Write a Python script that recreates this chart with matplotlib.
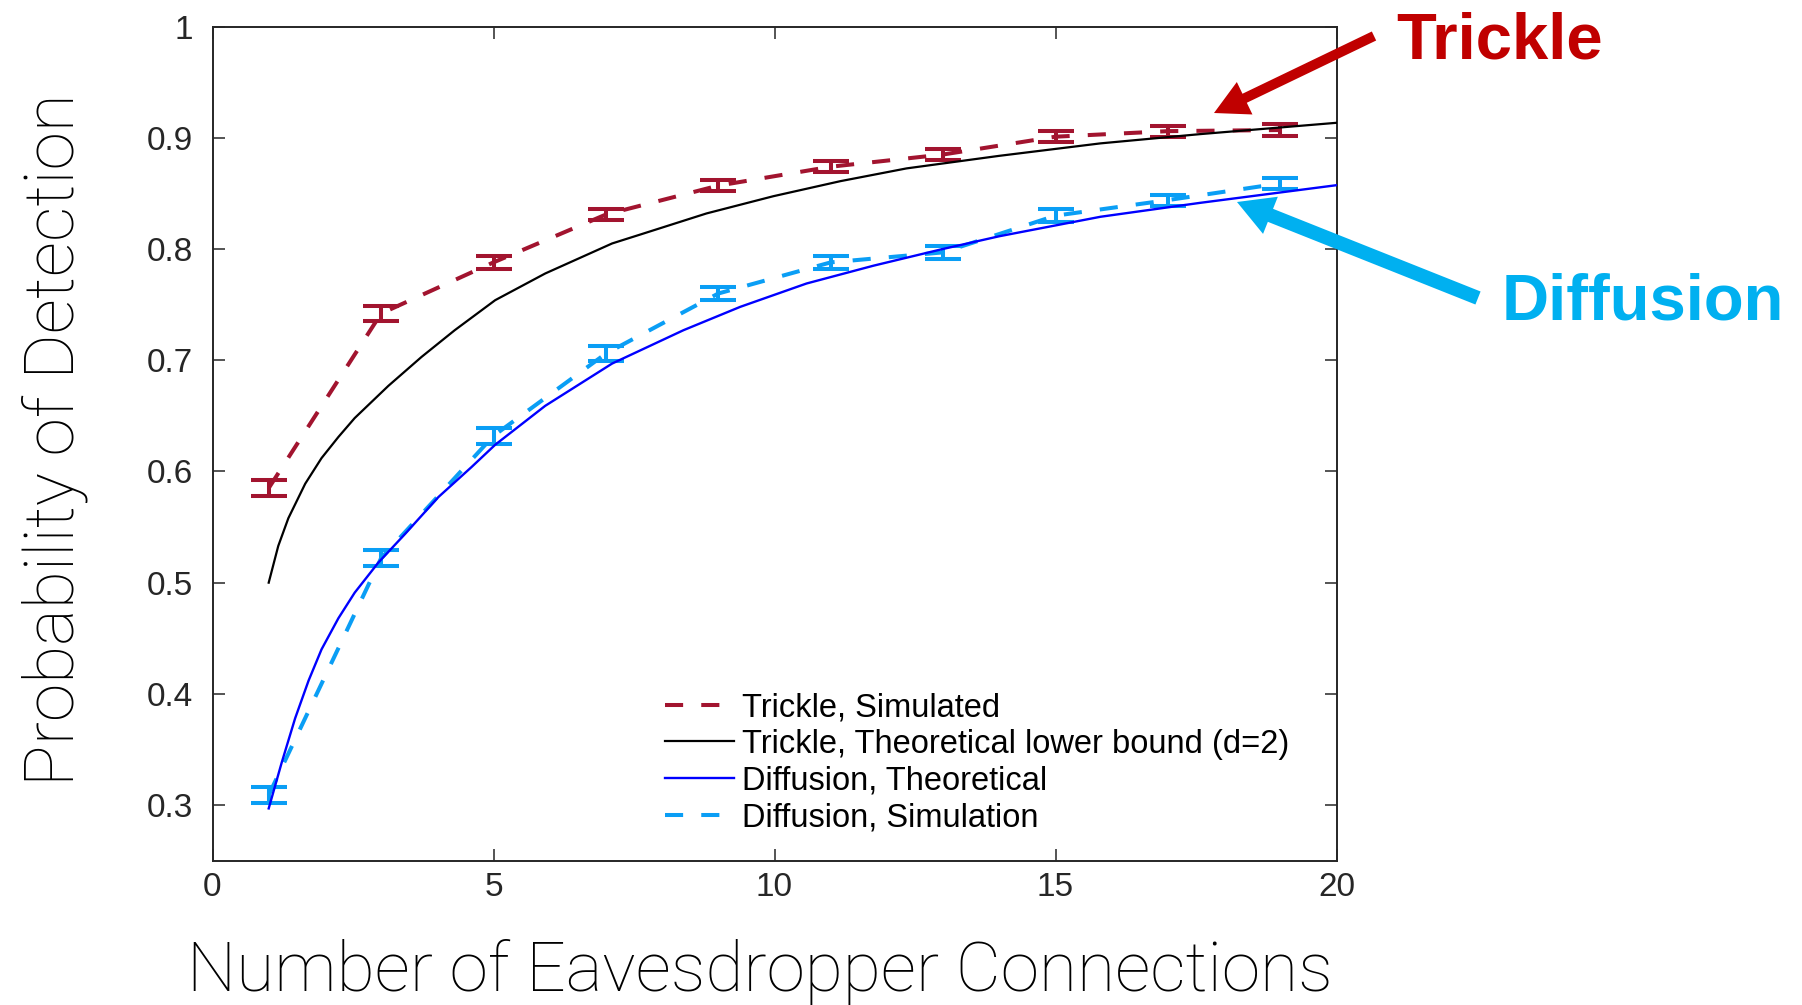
import matplotlib
matplotlib.use("Agg")
import matplotlib.pyplot as plt
from matplotlib.patches import FancyArrow
from matplotlib.transforms import IdentityTransform

# ---------------- data ----------------
x_sim = [1, 3, 5, 7, 9, 11, 13, 15, 17, 19]
trickle_sim = [0.585, 0.742, 0.788, 0.831, 0.857, 0.874, 0.885, 0.901, 0.906, 0.907]
trickle_err = [0.007, 0.007, 0.006, 0.005, 0.005, 0.005, 0.005, 0.005, 0.005, 0.005]
diffusion_sim = [0.309, 0.522, 0.632, 0.706, 0.760, 0.788, 0.797, 0.830, 0.844, 0.859]
diffusion_err = [0.007, 0.007, 0.007, 0.007, 0.006, 0.006, 0.006, 0.006, 0.005, 0.005]

x_trickle_theo = [1.0, 1.17, 1.35, 1.65, 1.94, 2.24, 2.53, 3.13, 3.72, 4.31, 5.03, 5.92,
                  7.11, 7.61, 8.79, 9.98, 11.17, 12.35, 14.0, 15.8, 17.57, 20.0]
trickle_theo = [0.500, 0.533, 0.558, 0.589, 0.612, 0.631, 0.648, 0.677, 0.703, 0.727, 0.754, 0.778,
                0.805, 0.813, 0.832, 0.8475, 0.861, 0.8725, 0.8838, 0.895, 0.9033, 0.9135]

x_diff_theo = [1.0, 1.23, 1.47, 1.71, 1.94, 2.24, 2.53, 2.95, 3.43, 4.02, 4.61, 5.03, 5.92,
               7.11, 8.38, 9.39, 10.57, 11.76, 12.95, 14.0, 15.8, 17.57, 20.0]
diff_theo = [0.297, 0.338, 0.378, 0.412, 0.440, 0.468, 0.491, 0.518, 0.544, 0.577, 0.604, 0.624, 0.659,
             0.697, 0.727, 0.748, 0.769, 0.785, 0.7995, 0.8115, 0.829, 0.8415, 0.8574]

x_ticks = [0, 5, 10, 15, 20]
x_ticklabels = ["0", "5", "10", "15", "20"]
y_ticks = [0.3, 0.4, 0.5, 0.6, 0.7, 0.8, 0.9, 1.0]
y_ticklabels = ["0.3", "0.4", "0.5", "0.6", "0.7", "0.8", "0.9", "1"]

legend_labels = ["Trickle, Simulated", "Trickle, Theoretical lower bound (d=2)",
                 "Diffusion, Theoretical", "Diffusion, Simulation"]

# ---------------- style ----------------
C_TRICKLE = "#A2142F"
C_DIFF_SIM = "#0A9EF5"
C_DIFF_THEO = "#0000FF"
C_BLACK = "#000000"
C_AXIS = "#262626"
C_TXT_RED = "#C00000"
C_TXT_BLUE = "#00B0F0"

W, H = 1802, 1005
fig = plt.figure(figsize=(W / 100, H / 100), dpi=100)
L, R, T, B = 212.5, 1336.5, 26.6, 860.7
ax = fig.add_axes([L / W, 1 - B / H, (R - L) / W, (B - T) / H])

dash = (0, (4.5, 4.5))
lw_sim = 2.9

# simulated series (drawn first)
h_ts, = ax.plot(x_sim, trickle_sim, color=C_TRICKLE, lw=lw_sim, ls=dash, zorder=2)
ax.errorbar(x_sim, trickle_sim, yerr=trickle_err, fmt="none", ecolor=C_TRICKLE,
            elinewidth=lw_sim, capsize=13, capthick=lw_sim, zorder=2)
h_ds, = ax.plot(x_sim, diffusion_sim, color=C_DIFF_SIM, lw=lw_sim, ls=dash, zorder=2)
ax.errorbar(x_sim, diffusion_sim, yerr=diffusion_err, fmt="none", ecolor=C_DIFF_SIM,
            elinewidth=lw_sim, capsize=13, capthick=lw_sim, zorder=2)

# theoretical curves
h_tt, = ax.plot(x_trickle_theo, trickle_theo, color=C_BLACK, lw=1.6, zorder=3)
h_dt, = ax.plot(x_diff_theo, diff_theo, color=C_DIFF_THEO, lw=1.7, zorder=3)

ax.set_xlim(0, 20)
ax.set_ylim(0.25, 1.0)
ax.set_xticks(x_ticks)
ax.set_xticklabels(x_ticklabels)
ax.set_yticks(y_ticks)
ax.set_yticklabels(y_ticklabels)

for lab in ax.get_xticklabels() + ax.get_yticklabels():
    lab.set_fontfamily(["Liberation Sans", "DejaVu Sans"])
    lab.set_fontsize(24)
    lab.set_color(C_AXIS)

ax.tick_params(axis="both", direction="in", length=8.6, width=1.1, color=C_AXIS,
               top=True, right=True)
ax.tick_params(axis="y", pad=14)
ax.tick_params(axis="x", pad=8)
for sp in ax.spines.values():
    sp.set_color(C_AXIS)
    sp.set_linewidth(1.4)

# legend
leg = ax.legend([h_ts, h_tt, h_dt, h_ds], legend_labels,
                loc="upper left", bbox_to_anchor=(664.5 / W, 1 - 692 / H),
                bbox_transform=fig.transFigure, frameon=False, borderpad=0,
                borderaxespad=0, handlelength=2.12, handletextpad=0.25,
                labelspacing=0.18,
                prop=dict(family=["Liberation Sans", "DejaVu Sans"], size=23.5))

# axis labels
label_font = dict(family=["Roboto", "DejaVu Sans"], weight="light", size=50)
fig.text(760 / W, 1 - 990.5 / H, "Number of Eavesdropper Connections",
         ha="center", va="baseline", color="#000000", **label_font)
fig.text(55 / W, 1 - 440 / H, "Probability of Detection", rotation=90,
         ha="center", va="center", color="#000000", **label_font)

# annotations
ann_font = dict(family=["Liberation Sans", "DejaVu Sans"], weight="bold", size=47)
fig.text(1396.6 / W, 1 - 58.3 / H, "Trickle", ha="left", va="baseline",
         color=C_TXT_RED, **ann_font)
fig.text(1501.4 / W, 1 - 320 / H, "Diffusion", ha="left", va="baseline",
         color=C_TXT_BLUE, **ann_font)


def arrow(tail, tip, width, hw, hl, color):
    x0, y0 = tail[0], H - tail[1]
    x1, y1 = tip[0], H - tip[1]
    a = FancyArrow(x0, y0, x1 - x0, y1 - y0, width=width, head_width=hw,
                   head_length=hl, length_includes_head=True, color=color,
                   transform=IdentityTransform(), lw=0)
    fig.add_artist(a)


arrow((1374, 36), (1214, 113), 10, 36, 34, C_TXT_RED)
arrow((1478, 298), (1237, 202), 14, 40, 36, C_TXT_BLUE)

fig.savefig("out.png", dpi=100)
